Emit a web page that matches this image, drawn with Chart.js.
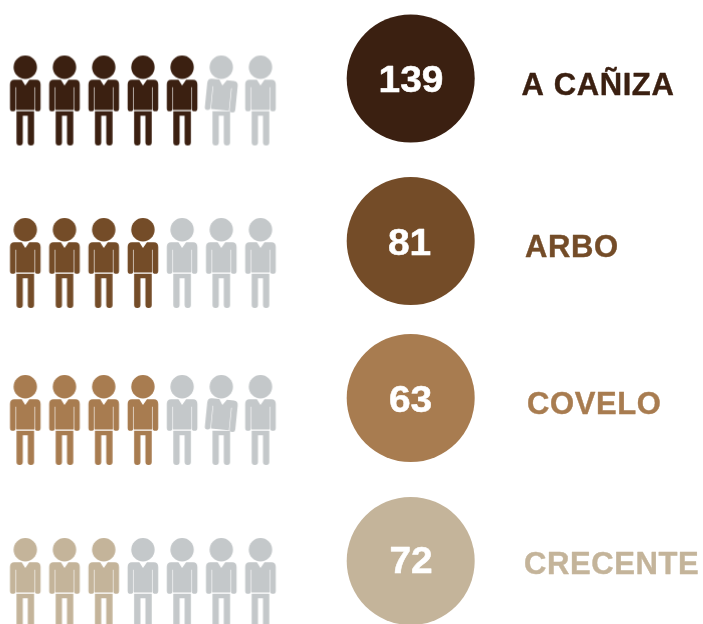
<!DOCTYPE html>
<html>
<head>
<meta charset="utf-8">
<title>A Cañiza, Arbo, Covelo, Crecente</title>
<script src="https://cdn.jsdelivr.net/npm/chart.js@4"></script>
<style>
    html, body { margin: 0; padding: 0; background: #fff; overflow: hidden; }
    canvas { display: block; }
</style>
</head>
<body>
<canvas id="peopleChart" width="703" height="624"></canvas>
<script>
const categories = ['A CAÑIZA', 'ARBO', 'COVELO', 'CRECENTE'];
const values = [139, 81, 63, 72];
const filledPeople = [5, 4, 4, 3];
const totalPeople = 7;
const tiltedPerson = [5, null, 5, null];

const rowColors = ['#3b2011', '#744c28', '#a87c50', '#c4b49a'];
const emptyColor = '#c4c8ca';

// layout, in canvas pixels
const rowY = [78.5, 241, 398, 561];
const labelX = [521.5, 525, 527, 524];
const labelBase = [94.5, 257, 413.5, 573.5];
const valueX = [411, 409.5, 410.5, 411];
const valueBase = [91.5, 254.5, 412, 572.5];
const circleX = 410.7;
const circleRadius = 64;
const personX = 25.3;
const personStep = 39.2;
const personDrop = 22;

function makePerson(color, tilted) {
    const c = document.createElement('canvas');
    c.width = 40;
    c.height = 92;
    const g = c.getContext('2d');
    g.fillStyle = color;

    // head
    g.beginPath();
    g.arc(20, 12.7, 11.7, 0, Math.PI * 2);
    g.fill();

    // legs
    g.beginPath();
    g.rect(11.2, 56.7, 17.6, 4.5);
    g.roundRect(11.2, 56.7, 6.3, 34.3, [0, 0, 3, 3]);
    g.roundRect(22.5, 56.7, 6.3, 34.3, [0, 0, 3, 3]);
    g.fill();

    // body and arms, one of them leans over in the original
    g.save();
    if (tilted) {
        g.translate(20, 42);
        g.rotate(0.1);
        g.translate(-20, -42);
    }
    g.beginPath();
    g.moveTo(9, 25.3);
    g.lineTo(16.4, 25.3);
    g.lineTo(20, 31);
    g.lineTo(24, 25.3);
    g.lineTo(31, 25.3);
    g.quadraticCurveTo(35.3, 25.3, 35.3, 30);
    g.lineTo(35.3, 54);
    g.arc(32.45, 54, 2.85, 0, Math.PI);
    g.lineTo(29.6, 32.7);
    g.lineTo(29, 32.7);
    g.lineTo(29, 55.4);
    g.lineTo(11, 55.4);
    g.lineTo(11, 32.7);
    g.lineTo(10.4, 32.7);
    g.lineTo(10.4, 54);
    g.arc(7.55, 54, 2.85, 0, Math.PI);
    g.lineTo(4.7, 30);
    g.quadraticCurveTo(4.7, 25.3, 9, 25.3);
    g.closePath();
    g.fill();
    g.restore();
    return c;
}

function personPoints(row) {
    const pts = [];
    for (let i = 0; i < totalPeople; i++) {
        pts.push({ x: personX + i * personStep, y: rowY[row] + personDrop });
    }
    return pts;
}

function personStyles(row) {
    const styles = [];
    for (let i = 0; i < totalPeople; i++) {
        const color = i < filledPeople[row] ? rowColors[row] : emptyColor;
        styles.push(makePerson(color, tiltedPerson[row] === i));
    }
    return styles;
}

const peopleDatasets = categories.map((name, row) => ({
    label: name,
    data: personPoints(row),
    pointStyle: personStyles(row),
    pointRadius: 20
}));

const circleDataset = {
    label: 'circles',
    data: categories.map((name, row) => ({ x: circleX, y: rowY[row] })),
    pointStyle: 'circle',
    pointRadius: circleRadius,
    pointBackgroundColor: rowColors,
    pointBorderWidth: 0
};

const textPlugin = {
    id: 'textPlugin',
    afterDatasetsDraw(chart) {
        const ctx = chart.ctx;
        ctx.save();
        ctx.textBaseline = 'alphabetic';
        ctx.lineJoin = 'round';
        categories.forEach((name, row) => {
            // the numbers are wider than the plain font, so stretch them a bit
            ctx.save();
            ctx.translate(valueX[row], valueBase[row]);
            ctx.scale(1.08, 1);
            ctx.fillStyle = '#fff';
            ctx.strokeStyle = '#fff';
            ctx.lineWidth = 0.5;
            ctx.textAlign = 'center';
            ctx.font = 'bold 36px "Liberation Sans"';
            ctx.fillText(String(values[row]), 0, 0);
            ctx.strokeText(String(values[row]), 0, 0);
            ctx.restore();

            ctx.fillStyle = rowColors[row];
            ctx.strokeStyle = rowColors[row];
            ctx.lineWidth = 0.4;
            ctx.textAlign = 'left';
            ctx.font = 'bold 31px "Liberation Sans"';
            ctx.letterSpacing = '0.6px';
            ctx.fillText(name, labelX[row], labelBase[row]);
            ctx.strokeText(name, labelX[row], labelBase[row]);
            ctx.letterSpacing = '0px';
        });
        ctx.restore();
    }
};

window.onload = function () {
    new Chart(document.getElementById('peopleChart').getContext('2d'), {
        type: 'scatter',
        data: { datasets: peopleDatasets.concat([circleDataset]) },
        options: {
            responsive: false,
            animation: false,
            layout: { padding: 0, autoPadding: false },
            plugins: { legend: { display: false }, tooltip: { enabled: false } },
            scales: {
                x: { type: 'linear', min: 0, max: 703, display: false },
                y: { type: 'linear', min: 0, max: 624, reverse: true, display: false }
            }
        },
        plugins: [textPlugin]
    });
};
</script>
</body>
</html>
